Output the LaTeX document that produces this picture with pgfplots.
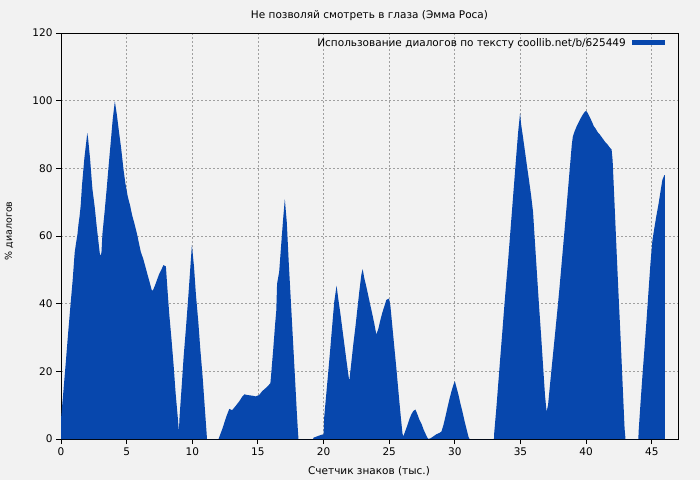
\documentclass[border=0pt]{standalone}
\usepackage{pgfplots}
\pgfplotsset{compat=1.18}
\usepackage{fontspec}
\setmainfont{DejaVu Sans}
\definecolor{bg}{HTML}{F2F2F2}
\definecolor{fillblue}{RGB}{7,71,173}
\definecolor{gridgray}{HTML}{A0A0A0}
\begin{document}
\begin{tikzpicture}[x=1pt,y=1pt]
\path[use as bounding box, fill=bg] (0,0) rectangle (700,480);
\node[font=\fontsize{10.5}{12}\selectfont] at (369.5,464) {Не позволяй смотреть в глаза (Эмма Роса)};
\node[font=\fontsize{10.5}{12}\selectfont] at (369,9) {Счетчик знаков (тыс.)};
\node[font=\fontsize{9.5}{11}\selectfont, rotate=90] at (9,249) {\% диалогов};
\begin{axis}[
  at={(61pt,41pt)}, anchor=south west,
  scale only axis, width=617pt, height=406pt,
  xmin=0, xmax=47, ymin=0, ymax=120,
  xtick={0,5,...,45}, ytick={0,20,...,120},
  xtick pos=bottom, ytick pos=left,
  tick align=outside, major tick length=5pt,
  grid=major,
  major grid style={gridgray, dash pattern=on 2pt off 2pt, line width=0.7pt},
  axis line style={black, line width=0.9pt},
  tick style={black, line width=0.9pt},
  axis background/.style={fill=bg},
  ticklabel style={font=\fontsize{10.5}{12}\selectfont},
  /pgf/number format/assume math mode=true,
  legend style={at={(1,1)}, anchor=north east, xshift=-10pt, yshift=-1pt,
    draw=none, fill=none, font=\fontsize{10.5}{12}\selectfont},
  legend plot pos=right,
  legend cell align=right,
  legend image code/.code={\path (0pt,0pt); \fill[fillblue] (4pt,-2.5pt) rectangle (37pt,2.5pt);},
]
\addplot[fill=fillblue, draw=none] coordinates {
(0,5.9) (0.18,14) (0.36,22.4) (0.53,30.7) (0.71,39) (0.89,47) (1.04,55) (1.15,58) (1.25,60.4) (1.33,63.4) (1.42,66) (1.5,69) (1.6,75) (1.78,83) (1.96,89) (2.0,90.4) (2.06,89) (2.21,83) (2.39,74) (2.57,68.5) (2.72,62.8) (2.9,56.7) (2.98,54.1) (3.08,55) (3.16,60.8) (3.33,67.5) (3.49,74.4) (3.64,81.3) (3.79,87.8) (3.94,94.5) (4.1,99.8) (4.25,96) (4.43,90.4) (4.58,86) (4.76,79.7) (4.91,75.4) (5.09,71.6) (5.27,68.9) (5.42,66.1) (5.6,63.6) (5.78,60.8) (5.93,58) (6.08,55.3) (6.26,53.3) (6.41,51.2) (6.59,48.6) (6.74,46.5) (6.92,43.9) (7.0,43.9) (7.15,45.3) (7.33,47.2) (7.48,48.8) (7.66,50.2) (7.81,51.4) (7.99,51) (8.09,45.3) (8.24,37.2) (8.42,29.3) (8.58,21.7) (8.73,13.6) (8.91,5.7) (8.98,2.2) (9.03,6.5) (9.19,15.4) (9.34,24.2) (9.52,32.9) (9.69,41.7) (9.85,50.6) (9.97,57.3) (10.13,51) (10.28,42.5) (10.46,34.6) (10.61,26.6) (10.79,18.3) (10.94,10) (11.09,1.8) (11.12,0) (12.0,0) (12.04,0.4) (12.29,3) (12.6,6.7) (12.82,8.9) (13.03,8.5) (13.31,9.8) (13.59,11.2) (13.82,12.6) (13.97,13.2) (14.2,13) (14.58,12.8) (14.83,12.6) (15.09,13) (15.34,14.2) (15.7,15.4) (15.95,16.5) (16.0,18.7) (16.16,26.2) (16.31,33.9) (16.4,38) (16.46,45.9) (16.62,49.4) (16.77,57.3) (16.92,65) (17.05,70.9) (17.2,64) (17.35,52) (17.51,40.7) (17.66,29.9) (17.81,19.1) (17.96,8.1) (18.04,2.8) (18.09,0) (19.2,0)
(19.24,0.4) (19.8,1.2) (20.0,1.4) (20.05,6.5) (20.2,13) (20.36,19.9) (20.51,26.6) (20.66,33.5) (20.81,40.4) (20.99,45.3) (21.12,41.5) (21.27,37.4) (21.42,32.9) (21.58,28.1) (21.73,23.6) (21.88,19.3) (21.96,17.1) (22.11,22.4) (22.26,27.8) (22.42,32.9) (22.57,38.2) (22.72,43.5) (22.88,48.6) (22.98,50.2) (23.1,47.6) (23.26,45) (23.41,42.3) (23.56,39.6) (23.72,36.8) (23.87,34) (24.02,30.9) (24.17,32.5) (24.33,35.2) (24.48,37.4) (24.63,39.2) (24.78,41.1) (24.99,41.5) (25.09,39.4) (25.24,33.3) (25.39,27.2) (25.55,20.7) (25.7,14.2) (25.85,7.9) (26.01,1.6) (26.08,0.8) (26.23,2.4) (26.39,4.1) (26.54,5.9) (26.69,7.3) (26.84,8.3) (27.0,8.7) (27.15,7.3) (27.3,5.7) (27.46,4.5) (27.61,2.9) (27.76,1.6) (27.91,0.4) (27.99,0) (28.14,0.2) (28.37,0.8) (28.6,1.4) (28.83,1.8) (28.98,2.2) (29.13,4.1) (29.29,6.7) (29.44,9.3) (29.59,11.8) (29.75,14.2) (29.9,16.1) (30.0,17.1) (30.13,15.2) (30.28,13) (30.43,10.4) (30.59,7.9) (30.74,5.3) (30.89,3) (31.04,0.6) (31.12,0) (32.98,0)
(33.0,1.8) (33.16,9) (33.31,16.5) (33.46,24) (33.61,31.3) (33.76,38.8) (33.91,46) (34.07,53.3) (34.22,60.8) (34.37,68.3) (34.52,75.8) (34.67,83.3) (34.82,90.6) (34.97,96.3) (35.05,93) (35.2,89) (35.35,84.8) (35.51,80.3) (35.66,76.2) (35.81,72) (35.96,67) (36.11,57.7) (36.26,48.6) (36.41,39.6) (36.57,30.7) (36.72,21.7) (36.87,12.8) (36.99,8.1) (37.1,10) (37.25,16.1) (37.4,22) (37.55,27.8) (37.7,33.7) (37.85,39.6) (38.0,45.9) (38.16,53) (38.31,59.6) (38.46,66.3) (38.61,73.2) (38.76,80.1) (38.91,87) (38.99,89.4) (39.14,91.1) (39.29,92.5) (39.44,93.7) (39.6,94.9) (39.75,95.9) (39.9,96.7) (40.0,97) (40.13,96.3) (40.28,95.1) (40.43,93.9) (40.58,92.5) (40.73,91.7) (40.88,90.7) (41.04,90) (41.19,89.2) (41.34,88.4) (41.49,87.6) (41.64,87) (41.79,86.2) (41.94,85.6) (42.02,82.3) (42.17,69.1) (42.32,55.7) (42.47,42.7) (42.63,29.5) (42.78,16.3) (42.93,3.1) (43.0,0) (43.98,0)
(44.0,2.2) (44.14,10.4) (44.29,18.7) (44.44,26.4) (44.6,35) (44.75,43.5) (44.9,51.8) (45.05,58.7) (45.2,62.4) (45.35,65.9) (45.51,69.3) (45.66,73) (45.81,76.6) (45.96,78) (46.0,78)
} \closedcycle;
\addlegendentry{Использование диалогов по тексту coollib.net/b/625449}
\end{axis}
\end{tikzpicture}
\end{document}
